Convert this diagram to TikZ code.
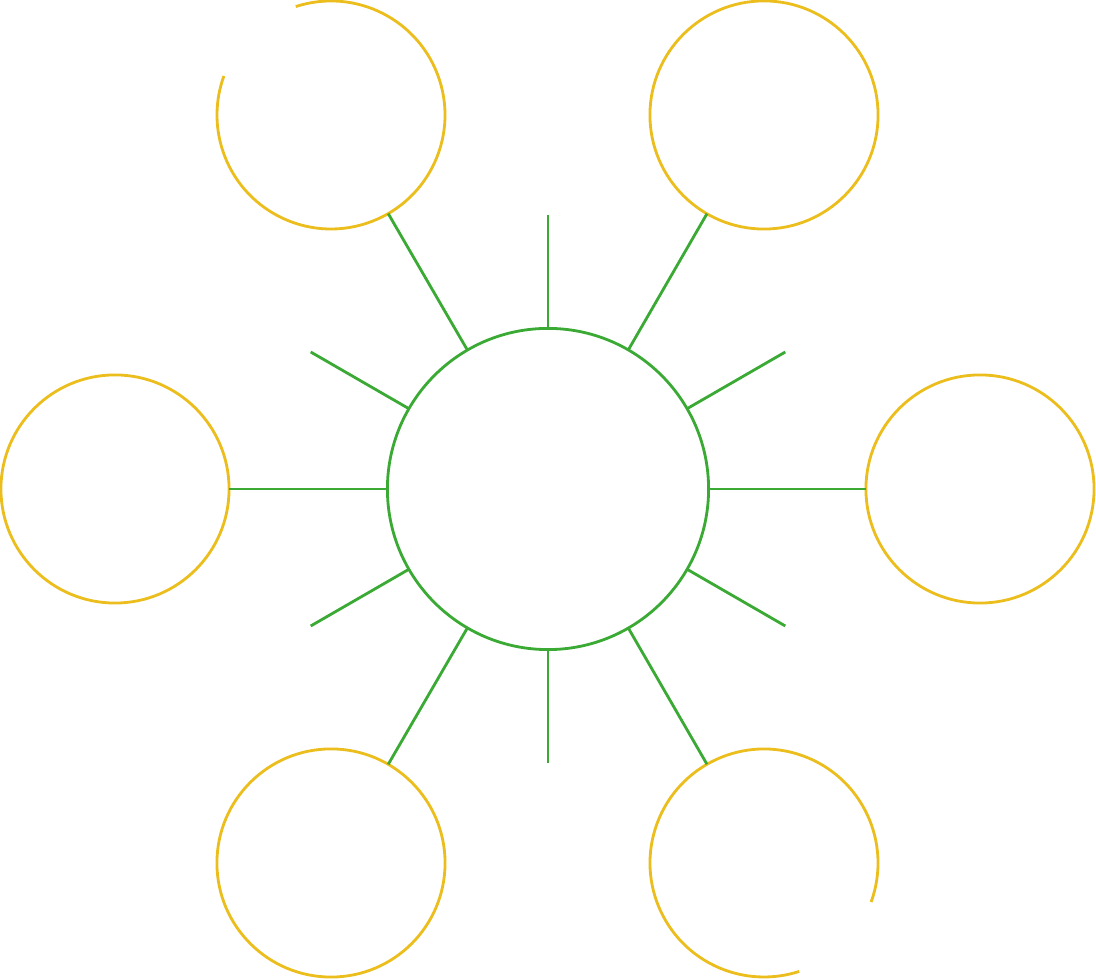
\documentclass[tikz,border=0pt]{standalone}
\usetikzlibrary{calc}
\begin{document}
\begin{tikzpicture}[x=0.01cm,y=-0.01cm,
  ylw/.style={draw=ylwcol,line width=0.8pt},
  grn/.style={draw=grncol,line width=0.8pt},
  outer/.style={circle,minimum size=2.28cm,inner sep=0pt,outer sep=0pt},
  hub/.style={circle,grn,minimum size=3.21cm,inner sep=0pt,outer sep=0pt}]
\definecolor{ylwcol}{HTML}{EBBE1E}
\definecolor{grncol}{HTML}{3AAA35}
\useasboundingbox (0,0) rectangle (1096,980);
\node[hub] (c) at (548,489) {};
\node[outer] (tl) at (331,115) {};
\node[outer,ylw] (tr) at (764,115) {};
\node[outer,ylw] (l) at (115,489) {};
\node[outer,ylw] (r) at (980,489) {};
\node[outer,ylw] (bl) at (331,863) {};
\node[outer] (br) at (764,863) {};
% broken circles (y axis points down, so angles are mirrored)
\draw[ylw] (tl.center) ++(-108:114) arc[start angle=-108,end angle=200,radius=114];
\draw[ylw] (br.center) ++(20:114) arc[start angle=20,end angle=-288,radius=114];
% connectors
\foreach \n in {tl,tr,l,r,bl,br} \draw[grn] (c) -- (\n);
% short spokes
\foreach \a in {90,30,150,210,270,330}
  \draw[grn] (c.\a) -- ($(c.center)+(-\a:274)$);
\end{tikzpicture}
\end{document}
